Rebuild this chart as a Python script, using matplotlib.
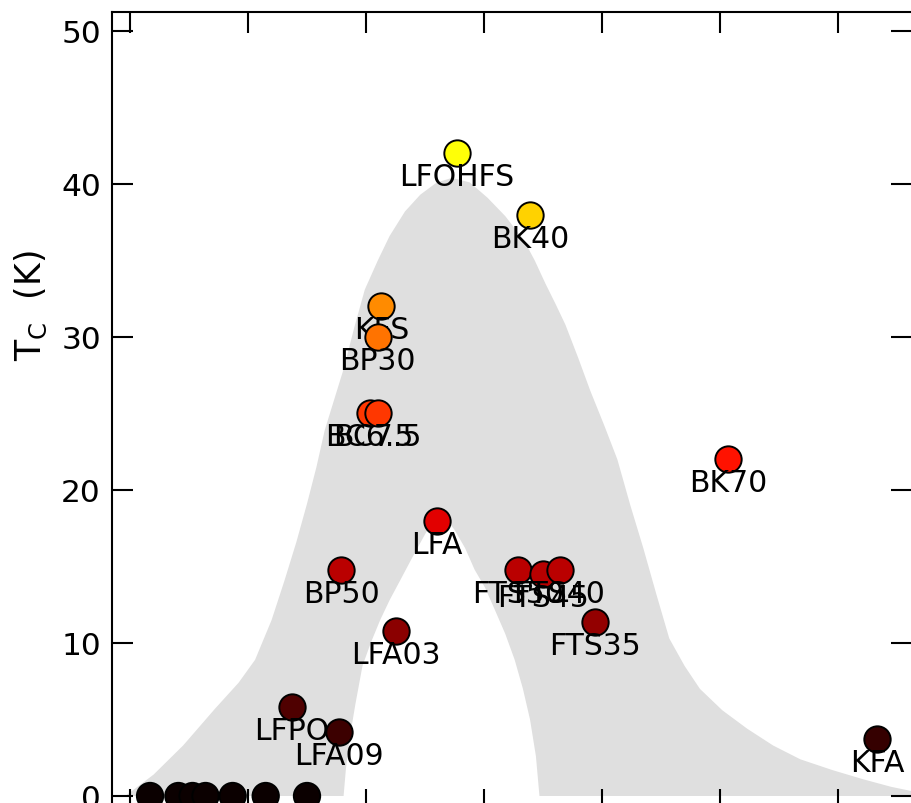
import matplotlib.pyplot as plt

# labelled compounds: position along x (arb. units) and Tc (K)
names = ['LFOHFS', 'BK40', 'KFS', 'BP30', 'BC6.5', 'BC7.5', 'BK70', 'LFA',
         'BP50', 'FTS50', 'FTS45', 'FTS40', 'FTS35', 'LFA03', 'LFPO', 'LFA09', 'KFA']
xpos = [2.77, 3.39, 2.13, 2.10, 2.03, 2.10, 5.07, 2.60,
        1.79, 3.29, 3.50, 3.64, 3.94, 2.25, 1.37, 1.77, 6.33]
tc = [42.0, 38.0, 32.0, 30.0, 25.0, 25.0, 22.0, 18.0,
      14.8, 14.8, 14.5, 14.8, 11.4, 10.8, 5.8, 4.2, 3.7]

# non-superconducting samples (Tc = 0)
zero_x = [0.17, 0.41, 0.53, 0.64, 0.87, 1.15, 1.50]
zero_tc = [0, 0, 0, 0, 0, 0, 0]

# grey dome band (outer edge left->right, then inner edge right->left)
band_x = [-0.04, 0.20, 0.45, 0.72, 0.92, 1.06, 1.20, 1.31, 1.41, 1.50, 1.58, 1.65,
          1.73, 1.81, 1.90, 1.99, 2.10, 2.20, 2.33, 2.46, 2.60, 2.73, 2.88, 3.03,
          3.18, 3.34, 3.43, 3.52, 3.61, 3.69, 3.80, 3.90, 4.02, 4.13, 4.24, 4.35,
          4.46, 4.57, 4.70, 4.83, 5.02, 5.23, 5.45, 5.68, 5.95, 6.21, 6.45, 6.70, 7.0,
          3.47, 3.44, 3.39, 3.33, 3.26, 3.18, 3.09, 3.01, 2.92, 2.84, 2.75, 2.69, 2.63,
          2.57, 2.50, 2.40, 2.29, 2.20, 2.12, 2.04, 1.97, 1.91, 1.86, 1.83, 1.81]
band_y = [0.0, 1.4, 3.3, 5.7, 7.4, 8.9, 11.5, 14.1, 16.6, 19.1, 21.5, 23.9,
          25.9, 27.9, 30.6, 33.1, 35.0, 36.6, 38.2, 39.3, 40.1, 40.4, 40.1, 39.1,
          37.9, 36.3, 35.0, 33.5, 32.1, 30.8, 28.6, 26.5, 24.2, 22.0, 19.0, 16.2,
          13.2, 10.3, 8.5, 7.0, 5.6, 4.4, 3.3, 2.4, 1.7, 1.1, 0.6, 0.2, 0.0,
          0.0, 2.6, 5.0, 7.0, 8.9, 10.6, 12.2, 13.6, 14.8, 16.2, 17.4, 18.0, 18.4,
          18.0, 17.1, 15.7, 14.1, 12.8, 11.5, 10.0, 8.5, 6.0, 3.7, 1.8, 0.0]

cmap = plt.get_cmap('hot')
vmax = 56.0

fig = plt.figure(figsize=(9.11, 8.04), dpi=100)
ax = fig.add_axes([112/911, -7/804, 800/911, 798/804])

ax.fill(band_x, band_y, color='#dfdfdf', lw=0, zorder=1)

ax.scatter(zero_x, zero_tc, s=360, c=[cmap(0.0)] * len(zero_x),
           edgecolors='black', linewidths=1.4, zorder=3, clip_on=False)

for i in range(len(names)):
    ax.scatter(xpos[i], tc[i], s=360, color=cmap(tc[i] / vmax),
               edgecolors='black', linewidths=1.4, zorder=4 + 2*i)
    ax.annotate(names[i], (xpos[i], tc[i]), xytext=(0, -32), textcoords='offset pixels',
                ha='center', va='baseline', fontsize=21.5, zorder=5 + 2*i)

ax.set_xlim(-0.1525, 6.627)
ax.set_ylim(-0.915, 51.24)
ax.set_xticks(range(0, 7))
ax.set_yticks([0, 10, 20, 30, 40, 50])
ax.tick_params(direction='in', top=True, right=True, length=15, width=1.5,
               labelsize=22.5, pad=8, labelbottom=False)
for sp in ax.spines.values():
    sp.set_linewidth(1.5)

fig.text(31/911, 1 - 306/804, 'T$_\\mathregular{C}$  (K)', rotation=90,
         ha='center', va='center', fontsize=25)

fig.savefig('out.png', dpi=100)
